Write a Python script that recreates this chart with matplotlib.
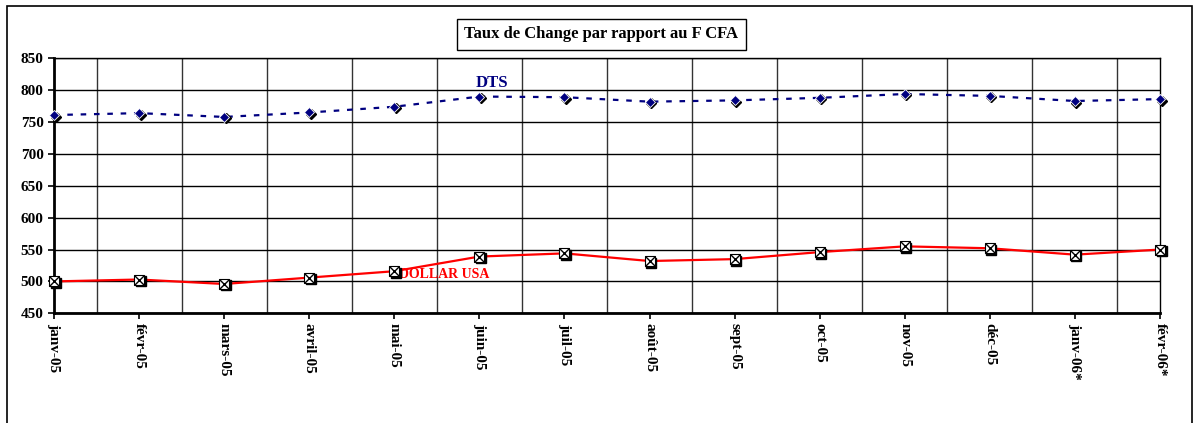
import numpy as np
import matplotlib
matplotlib.use('Agg')
from matplotlib import pyplot as plt
from matplotlib import transforms
from matplotlib.patches import Rectangle

# donnees
mois = ['janv-05', 'févr-05', 'mars-05', 'avril-05', 'mai-05', 'juin-05', 'juil-05',
        'août-05', 'sept-05', 'oct-05', 'nov-05', 'déc-05', 'janv-06*', 'févr-06*']
dts = [761, 764, 758, 765, 774, 790, 789, 782, 784, 788, 794, 791, 783, 786]
dollar = [500, 503, 496, 506, 516, 539, 544, 532, 535, 546, 555, 552, 542, 550]

plt.rcParams['font.family'] = ['Liberation Serif', 'DejaVu Serif']
plt.rcParams['font.weight'] = 'bold'

fig = plt.figure(figsize=(11.93, 4.23), dpi=100)
ax = fig.add_axes([54 / 1193, 1 - 313.3 / 423, (1160 - 54) / 1193, (313.3 - 58.3) / 423])

x = np.arange(len(mois))

# ombre des marqueurs
ombre = transforms.offset_copy(ax.transData, fig=fig, x=1.5, y=-1.5, units='dots')

# DTS
ax.plot(x, dts, color='#000080', lw=1.6, linestyle=(0, (2.5, 3.5)), zorder=3)
ax.plot(x, dts, linestyle='none', marker='D', ms=5.5, color='black', transform=ombre,
        zorder=4, clip_on=False)
ax.plot(x, dts, linestyle='none', marker='D', ms=5.5, mfc='#000080', mec='white', mew=0.6,
        zorder=5, clip_on=False)

# Dollar USA
ax.plot(x, dollar, color='red', lw=1.6, zorder=3)
ax.plot(x, dollar, linestyle='none', marker='s', ms=7.5, color='black', transform=ombre,
        zorder=4, clip_on=False)
ax.plot(x, dollar, linestyle='none', marker='s', ms=7.5, mfc='white', mec='black', mew=0.8,
        zorder=5, clip_on=False)
ax.plot(x, dollar, linestyle='none', marker='x', ms=7.5, color='black', mew=1, zorder=6,
        clip_on=False)

ax.text(5.15, 812, 'DTS', color='#000080', fontsize=12, fontweight='bold',
        ha='center', va='center')
ax.text(4.06, 511.5, 'DOLLAR USA', color='red', fontsize=10, fontweight='bold',
        ha='left', va='center')

ax.set_xlim(0, 13)
ax.set_ylim(450, 850)
ax.set_yticks(np.arange(450, 851, 50))
ax.set_xticks(x)
ax.set_xticklabels(mois, rotation=-90, fontsize=11, fontweight='bold')
ax.set_yticklabels([str(v) for v in range(450, 851, 50)], fontsize=11, fontweight='bold')
ax.set_xticks(np.arange(0, 13.01, 0.5), minor=True)
ax.tick_params(axis='y', length=4, width=1.2, direction='out')
ax.tick_params(axis='x', which='major', length=4, width=1.2, direction='out', pad=3)
ax.tick_params(axis='x', which='minor', length=0)

ax.grid(axis='y', color='black', lw=1)
ax.grid(axis='x', which='minor', color='#333333', lw=1)

for s in ['left', 'bottom']:
    ax.spines[s].set_linewidth(2)
for s in ['top', 'right']:
    ax.spines[s].set_linewidth(1)

# titre encadre
fig.text(601 / 1193, 1 - 34.5 / 423, 'Taux de Change par rapport au F CFA', fontsize=12,
         fontweight='bold', ha='center', va='center',
         bbox=dict(boxstyle='square,pad=0.45', fc='white', ec='black', lw=1))

# cadre exterieur
fig.patches.append(Rectangle((7 / 1193, -0.05), (1192 - 7) / 1193, 1.05 - 6 / 423,
                             transform=fig.transFigure, fill=False, ec='black', lw=1.2))

plt.savefig('out.png', dpi=100)
